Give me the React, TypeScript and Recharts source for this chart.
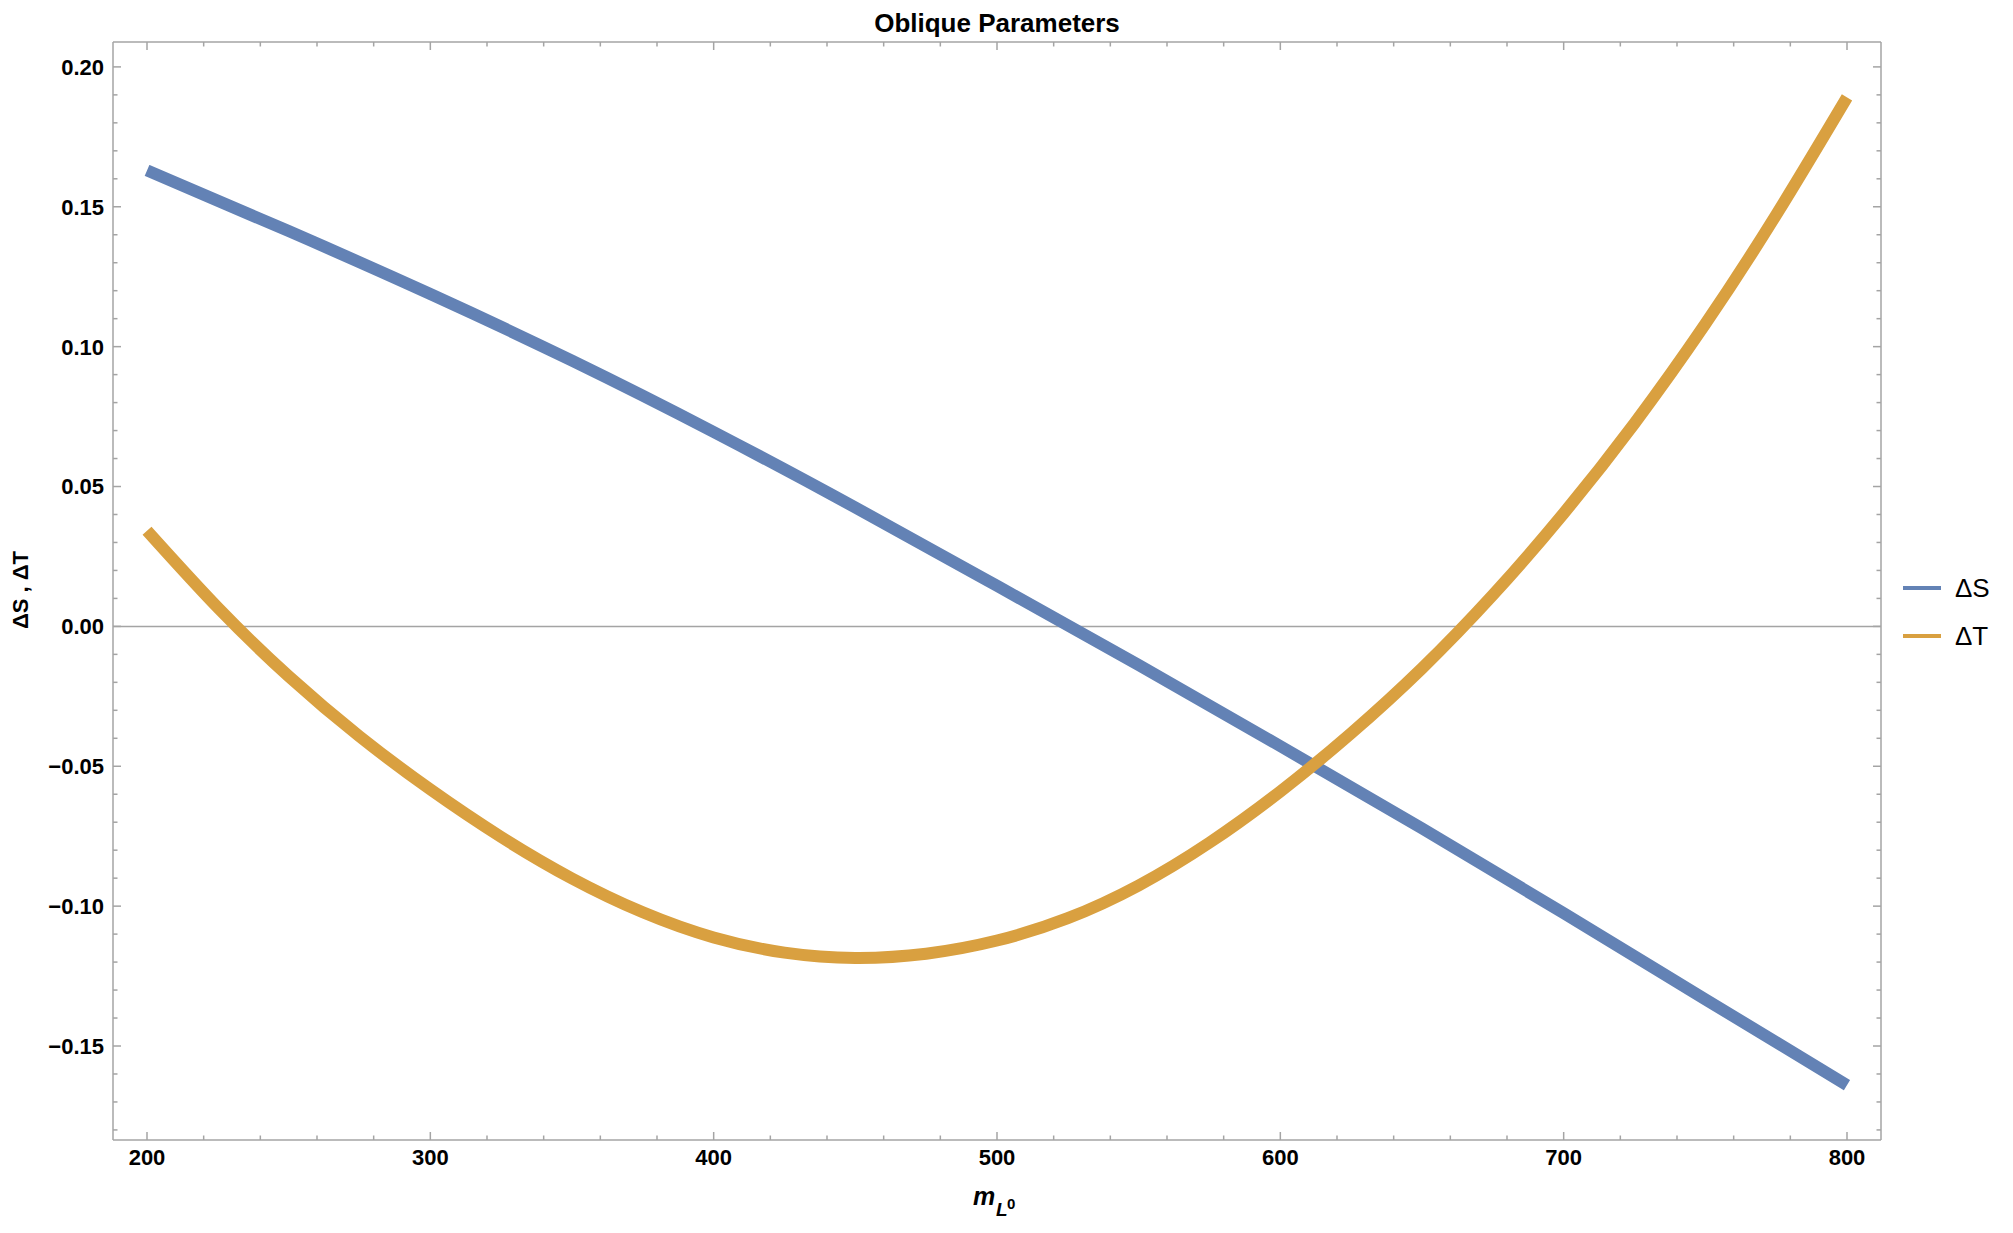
import React from "react";
import { LineChart, Line, XAxis, YAxis, ReferenceLine, Legend } from "recharts";

// ΔS: every 50 GeV
const massS = [200, 250, 300, 350, 400, 450, 500, 550, 600, 650, 700, 750, 800];
const deltaS = [0.163, 0.1413, 0.1188, 0.095, 0.0695, 0.0425, 0.0145, -0.0138, -0.0428, -0.0722, -0.1025, -0.1333, -0.164];

// ΔT: more curvature, so every 25 GeV
const massT = [200, 225, 250, 275, 300, 325, 350, 375, 400, 425, 450, 475, 500, 525, 550, 575, 600, 625, 650, 675, 700, 725, 750, 775, 800];
const deltaT = [
  0.0342, 0.0067, -0.0178, -0.0393, -0.0583, -0.0753, -0.0901, -0.1022, -0.1112, -0.1166, -0.1185, -0.117, -0.1123,
  -0.1043, -0.0926, -0.0773, -0.059, -0.0382, -0.015, 0.0112, 0.0404, 0.0726, 0.1081, 0.1471, 0.1891,
];

const xMajorTicks = [200, 300, 400, 500, 600, 700, 800];
const yMajorTicks = [-0.15, -0.1, -0.05, 0, 0.05, 0.1, 0.15, 0.2];
const xDomain = [188, 812];
const yDomain = [-0.1836, 0.2089];

// minor ticks: every 20 on x, every 0.01 on y
const xAllTicks = Array.from({ length: 31 }, (_, i) => 200 + i * 20);
const yAllTicks = Array.from({ length: 39 }, (_, i) => (i - 18) / 100);

const seriesS = massS.map((m, i) => ({ m, v: deltaS[i] }));
const seriesT = massT.map((m, i) => ({ m, v: deltaT[i] }));

const W = 2013;
const H = 1233;
const FRAME = "#a4a4a4";
const FONT = "'Liberation Sans', Arial, Helvetica, sans-serif";
const BLUE = "#6382b5";
const ORANGE = "#d9a040";

const isMajor = (v: number, majors: number[]) => majors.some((t) => Math.abs(t - v) < 1e-9);

const fmtY = (v: number) => {
  const s = Math.abs(v).toFixed(2);
  return v < -1e-9 ? "\u2212" + s : s;
};

function FrameTick(props: any) {
  const { x, y, payload, side } = props;
  const value = payload.value;
  const horizontal = side === "bottom" || side === "top";
  const major = isMajor(value, horizontal ? xMajorTicks : yMajorTicks);
  const len = major ? 8 : 4.5;
  const textStyle = { fontFamily: FONT, fontWeight: 700, fontSize: 22, fill: "#000" };

  if (side === "bottom") {
    return (
      <g>
        <line x1={x} y1={y} x2={x} y2={y - len} stroke={FRAME} strokeWidth={1.5} />
        {major && (
          <text x={x} y={y + 25} textAnchor="middle" style={textStyle}>
            {value}
          </text>
        )}
      </g>
    );
  }
  if (side === "top") {
    return <line x1={x} y1={y} x2={x} y2={y + len} stroke={FRAME} strokeWidth={1.5} />;
  }
  if (side === "left") {
    return (
      <g>
        <line x1={x} y1={y} x2={x + len} y2={y} stroke={FRAME} strokeWidth={1.5} />
        {major && (
          <text x={x - 9} y={y} dy="0.36em" textAnchor="end" style={textStyle}>
            {fmtY(value)}
          </text>
        )}
      </g>
    );
  }
  return <line x1={x} y1={y} x2={x - len} y2={y} stroke={FRAME} strokeWidth={1.5} />;
}

const renderLegend = (props: any) => (
  <div style={{ fontFamily: FONT, fontSize: 26, color: "#000" }}>
    {(props.payload || []).map((entry: any) => (
      <div key={entry.value} style={{ display: "flex", alignItems: "center", height: 48 }}>
        <span style={{ display: "inline-block", width: 38, height: 4, background: entry.color, marginRight: 14 }} />
        <span>{entry.value}</span>
      </div>
    ))}
  </div>
);

export default function App() {
  return (
    <div style={{ position: "absolute", left: 0, top: 0, width: W, height: H, background: "#fff" }}>
      {/* axes are 1px thick, so the plot box is 113..1881 x 42..1140 */}
      <LineChart width={W} height={H} margin={{ top: 41, right: 131, bottom: 92, left: 112 }}>
        <XAxis
          xAxisId="b"
          type="number"
          dataKey="m"
          domain={xDomain}
          ticks={xAllTicks}
          interval={0}
          height={1}
          tickSize={0}
          tickMargin={0}
          tickLine={false}
          axisLine={{ stroke: FRAME, strokeWidth: 1.5 }}
          tick={(p: any) => <FrameTick {...p} side="bottom" />}
          allowDataOverflow
        />
        <XAxis
          xAxisId="t"
          orientation="top"
          type="number"
          dataKey="m"
          domain={xDomain}
          ticks={xAllTicks}
          interval={0}
          height={1}
          tickSize={0}
          tickMargin={0}
          tickLine={false}
          axisLine={{ stroke: FRAME, strokeWidth: 1.5 }}
          tick={(p: any) => <FrameTick {...p} side="top" />}
          allowDataOverflow
        />
        <YAxis
          yAxisId="l"
          type="number"
          domain={yDomain}
          ticks={yAllTicks}
          interval={0}
          width={1}
          tickSize={0}
          tickMargin={0}
          tickLine={false}
          axisLine={{ stroke: FRAME, strokeWidth: 1.5 }}
          tick={(p: any) => <FrameTick {...p} side="left" />}
          allowDataOverflow
        />
        <YAxis
          yAxisId="r"
          orientation="right"
          type="number"
          domain={yDomain}
          ticks={yAllTicks}
          interval={0}
          width={1}
          tickSize={0}
          tickMargin={0}
          tickLine={false}
          axisLine={{ stroke: FRAME, strokeWidth: 1.5 }}
          tick={(p: any) => <FrameTick {...p} side="right" />}
          allowDataOverflow
        />
        <ReferenceLine xAxisId="b" yAxisId="l" y={0} stroke={FRAME} strokeWidth={1.5} />
        <Line
          xAxisId="b"
          yAxisId="l"
          data={seriesS}
          dataKey="v"
          name="ΔS"
          type="natural"
          stroke={BLUE}
          strokeWidth={12}
          dot={false}
          activeDot={false}
          isAnimationActive={false}
        />
        <Line
          xAxisId="b"
          yAxisId="l"
          data={seriesT}
          dataKey="v"
          name="ΔT"
          type="natural"
          stroke={ORANGE}
          strokeWidth={12}
          dot={false}
          activeDot={false}
          isAnimationActive={false}
        />
        <Legend
          layout="horizontal"
          align="center"
          verticalAlign="middle"
          content={renderLegend}
          wrapperStyle={{ left: 1903, top: 564, width: 110 }}
        />
      </LineChart>

      <svg
        width={W}
        height={H}
        style={{ position: "absolute", left: 0, top: 0, pointerEvents: "none" }}
        fontFamily={FONT}
      >
        <text x={997} y={32} textAnchor="middle" fontSize={26} fontWeight={700} fill="#000">
          Oblique Parameters
        </text>
        <text transform="translate(28,590) rotate(-90)" textAnchor="middle" fontSize={22} fontWeight={700} fill="#000">
          ΔS , ΔT
        </text>
        <text x={973} y={1205} fontSize={25} fontWeight={700} fontStyle="italic" fill="#000">
          m
        </text>
        <text x={996} y={1216} fontSize={19} fontWeight={700} fontStyle="italic" fill="#000">
          L
        </text>
        <text x={1007} y={1209} fontSize={15} fontWeight={700} fill="#000">
          0
        </text>
      </svg>
    </div>
  );
}
